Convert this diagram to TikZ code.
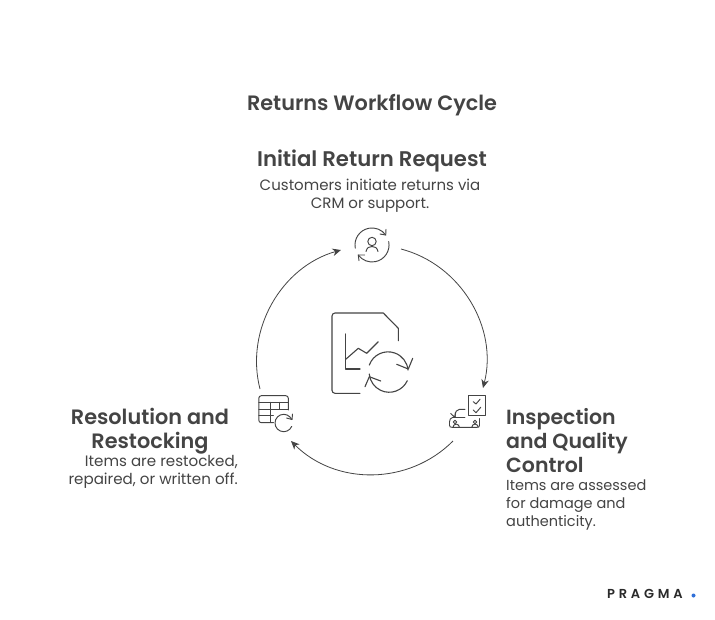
\documentclass[tikz,border=0pt]{standalone}
\usepackage{fontspec}
\setmainfont[BoldFont={Poppins SemiBold}]{Poppins}
\usetikzlibrary{arrows.meta}
\definecolor{ink}{HTML}{444444}
\definecolor{logoink}{HTML}{2A2A2A}
\definecolor{logodot}{HTML}{2F6FD8}
\tikzset{
  head/.style={text=ink,font=\bfseries\fontsize{20.8}{24}\selectfont,inner sep=0pt,align=#1},
  head/.default=center,
  desc/.style={text=ink,font=\fontsize{15}{18}\selectfont,inner sep=0pt,align=#1},
  desc/.default=center,
  flow/.style={draw=ink,line width=0.8pt,-{Stealth[length=8.5pt,width=7.5pt]}},
  iconline/.style={draw=ink,line width=0.95pt,line cap=round,line join=round},
  bigicon/.style={draw=ink,line width=1.1pt,line cap=round,line join=round},
}
\begin{document}
\begin{tikzpicture}[x=1pt,y=-1pt]
\useasboundingbox[fill=white] (0,0) rectangle (715,619);

\node[head,font=\bfseries\fontsize{20.8}{24}\selectfont] (title) at (372,105) {Returns Workflow Cycle};
\node[head,font=\bfseries\fontsize{21.2}{24}\selectfont] (reqhead) at (372,160.5) {Initial Return Request};
\node[desc] (reqdesc) at (370,196) {Customers initiate returns via\\CRM or support.};
\node[head=left,anchor=west,font=\bfseries\fontsize{20.5}{24}\selectfont] (insphead) at (506,441) {Inspection\\and Quality\\Control};
\node[desc=left,anchor=west,font=\fontsize{14.5}{18}\selectfont] (inspdesc) at (506,505) {Items are assessed\\for damage and\\authenticity.};
\node[head] (reshead) at (150,431) {Resolution and\\Restocking};
\node[desc=right,anchor=east,font=\fontsize{15.1}{18}\selectfont] (resdesc) at (238,472) {Items are restocked,\\repaired, or written off.};
\node[text=logoink,font=\bfseries\fontsize{13}{15}\selectfont,inner sep=0pt,anchor=west] (logo) at (607,593.5) {\addfontfeature{LetterSpace=29}PRAGMA};
\node[circle,fill=logodot,inner sep=0pt,minimum size=4pt] (logodot) at (693.5,595.5) {};

% Cycle connectors
\coordinate (a1) at (401,249);
\coordinate (b1) at (483,388);
\coordinate (a2) at (453,441);
\coordinate (b2) at (291,441);
\coordinate (a3) at (260,389);
\coordinate (b3) at (341,250);
\draw[flow] (a1) to[out=-14.6,in=75.8,distance=62pt] (b1);
\draw[flow] (a2) to[out=-135,in=-45,distance=63pt] (b2);
\draw[flow] (a3) to[out=104.5,in=195.7,distance=61.5pt] (b3);

% Person icon
\node[inner sep=0pt,minimum size=34pt] (iconreq) at (372,245) {};
\draw[iconline] (355.3,248.2) arc[start angle=169,end angle=324,radius=17];
\draw[iconline] (380,234) -- (385.7,235) -- (386,229.3);
\draw[iconline] (388.7,241.6) arc[start angle=-11.5,end angle=144,radius=17];
\draw[iconline] (364.7,255) -- (358.3,255) -- (359,260.7);
\draw[iconline] (372,241.5) circle[radius=4.2];
\draw[iconline] (366,251.5) .. controls (367,247.5) and (369,246.5) .. (372,246.5) .. controls (375,246.5) and (377,247.5) .. (378,251.5);

% Central document icon
\node[inner sep=0pt,minimum width=82pt,minimum height=82pt] (iconmain) at (372,353) {};
\draw[bigicon] (360,393.3) -- (335,393.3) arc[start angle=90,end angle=180,radius=3] -- (332,316) arc[start angle=180,end angle=270,radius=3] -- (383.3,313) -- (398.3,328.3) -- (398.3,340.7);
\draw[bigicon] (345.7,334) -- (345.7,369) -- (360,369);
\draw[bigicon] (345.7,359.3) -- (358.3,348.3) -- (366.7,353.3) -- (378.3,341.7);
\draw[bigicon] (369.3,365) arc[start angle=200,end angle=355,radius=20];
\draw[bigicon] (396.7,364.3) -- (408.3,369) -- (412.7,358.3);
\draw[bigicon] (407.3,380.7) arc[start angle=25,end angle=175,radius=20];
\draw[bigicon] (380.7,381) -- (369.3,376.7) -- (365,386.7);

% Truck and clipboard icon
\node[inner sep=0pt,minimum size=38pt] (iconinsp) at (468,413) {};
\draw[iconline] (468.3,395.7) rectangle (485,415);
\draw[iconline] (473.3,401.7) -- (476,404) -- (480,399.3);
\draw[iconline] (473.3,410) -- (476,412.7) -- (480.7,407.3);
\draw[iconline] (465,409.3) -- (459.5,409.3) .. controls (456.5,409.3) and (455.2,411.5) .. (455,417.5);
\draw[iconline] (450.7,413.5) -- (455,417.5) -- (455.3,412.5);
\draw[iconline] (465,417.5) -- (452.5,417.5) .. controls (450.5,417.5) and (449.5,420) .. (449.5,422) -- (449.5,425.2) .. controls (449.5,426.8) and (450.5,427.3) .. (452,427.3) -- (477,427.3) .. controls (478.7,427.3) and (479.5,426.8) .. (479.5,425) -- (479.5,418.5);
\draw[iconline] (455,422) circle[radius=1.8];
\draw[iconline] (475,422) circle[radius=1.8];
\draw[iconline] (453,427.3) arc[start angle=180,end angle=360,radius=3.2];
\draw[iconline] (471.8,427.3) arc[start angle=180,end angle=360,radius=3.2];

% Table icon
\node[inner sep=0pt,minimum size=38pt] (iconres) at (273,411) {};
\draw[iconline] (273.5,422.7) -- (261.3,422.7) arc[start angle=90,end angle=180,radius=2.5] -- (258.8,398.2) arc[start angle=180,end angle=270,radius=2.5] -- (285.8,395.7) arc[start angle=-90,end angle=0,radius=2.5] -- (288.3,410);
\draw[iconline] (258.8,402.3) -- (288.3,402.3);
\draw[iconline] (258.8,409) -- (288.3,409);
\draw[iconline] (258.8,415.7) -- (273.5,415.7);
\draw[iconline] (270.7,402.3) -- (270.7,422);
\draw[iconline] (279.3,402.3) -- (279.3,409);
\draw[iconline] (291.7,426.4) arc[start angle=23,end angle=337,radius=8.7];
\draw[iconline] (286.5,418) -- (292,419.5) -- (292.5,414);
\end{tikzpicture}
\end{document}
